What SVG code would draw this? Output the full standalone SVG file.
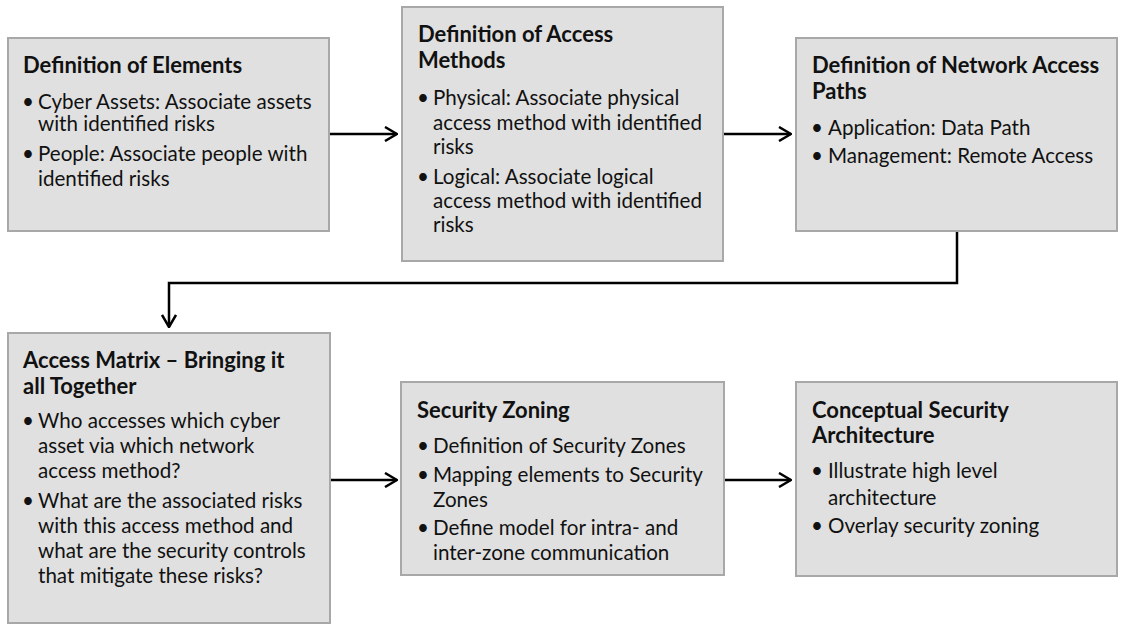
<svg xmlns="http://www.w3.org/2000/svg" width="1124" height="626" viewBox="0 0 1124 626">
<style>
.box{fill:#e0e0e0;stroke:#a8a8a8;stroke-width:2}
.t{font-family:Lato,"Open Sans",sans-serif;font-size:22px;font-weight:bold;fill:#111}
.b{font-family:Lato,"Open Sans",sans-serif;font-size:20.6px;fill:#111}
.d{font-family:Lato,"Open Sans",sans-serif;font-size:20.6px;fill:#111;text-anchor:middle}
.c{fill:none;stroke:#000;stroke-width:2.5}
</style>
<defs>
<marker id="arr" viewBox="0 0 14 16" refX="13" refY="8" markerWidth="14" markerHeight="16" markerUnits="userSpaceOnUse" orient="auto">
<path d="M1,1 L13,8 L1,15" fill="none" stroke="#000" stroke-width="2.5"/>
</marker>
</defs>
<rect width="1124" height="626" fill="#fff"/>
<g id="connectors">
<line class="c" x1="329" y1="134" x2="397" y2="134" marker-end="url(#arr)"/>
<line class="c" x1="723" y1="134" x2="791" y2="134" marker-end="url(#arr)"/>
<polyline class="c" points="957,231 957,283 169,283 169,327" marker-end="url(#arr)"/>
<line class="c" x1="330" y1="480" x2="397" y2="480" marker-end="url(#arr)"/>
<line class="c" x1="724" y1="480" x2="791" y2="480" marker-end="url(#arr)"/>
</g>
<g id="n1">
<rect class="box" x="8" y="38" width="321" height="193"/>
<text class="t" x="23" y="73">Definition of Elements</text>
<text class="d" x="28" y="109">•</text><text class="b" x="38" y="109">Cyber Assets: Associate assets</text>
<text class="b" x="38" y="131">with identified risks</text>
<text class="d" x="28" y="161">•</text><text class="b" x="38" y="161">People: Associate people with</text>
<text class="b" x="38" y="186">identified risks</text>
</g>
<g id="n2">
<rect class="box" x="402" y="7" width="321" height="254"/>
<text class="t" x="418" y="42">Definition of Access</text>
<text class="t" x="418" y="68">Methods</text>
<text class="d" x="423" y="105">•</text><text class="b" x="433" y="105">Physical: Associate physical</text>
<text class="b" x="433" y="130">access method with identified</text>
<text class="b" x="433" y="154">risks</text>
<text class="d" x="423" y="184">•</text><text class="b" x="433" y="184">Logical: Associate logical</text>
<text class="b" x="433" y="208">access method with identified</text>
<text class="b" x="433" y="232">risks</text>
</g>
<g id="n3">
<rect class="box" x="796" y="38" width="321" height="193"/>
<text class="t" x="812" y="73">Definition of Network Access</text>
<text class="t" x="812" y="99">Paths</text>
<text class="d" x="817" y="135">•</text><text class="b" x="828" y="135">Application: Data Path</text>
<text class="d" x="817" y="163">•</text><text class="b" x="828" y="163">Management: Remote Access</text>
</g>
<g id="n4">
<rect class="box" x="8" y="333" width="322" height="290"/>
<text class="t" x="23" y="368">Access Matrix – Bringing it</text>
<text class="t" x="23" y="394">all Together</text>
<text class="d" x="28" y="428">•</text><text class="b" x="38" y="428">Who accesses which cyber</text>
<text class="b" x="38" y="453">asset via which network</text>
<text class="b" x="38" y="478">access method?</text>
<text class="d" x="28" y="508">•</text><text class="b" x="38" y="508">What are the associated risks</text>
<text class="b" x="38" y="533">with this access method and</text>
<text class="b" x="38" y="558">what are the security controls</text>
<text class="b" x="38" y="583">that mitigate these risks?</text>
</g>
<g id="n5">
<rect class="box" x="401" y="382" width="323" height="193"/>
<text class="t" x="417" y="418">Security Zoning</text>
<text class="d" x="423" y="453">•</text><text class="b" x="433" y="453">Definition of Security Zones</text>
<text class="d" x="423" y="482">•</text><text class="b" x="433" y="482">Mapping elements to Security</text>
<text class="b" x="433" y="507">Zones</text>
<text class="d" x="423" y="535">•</text><text class="b" x="433" y="535">Define model for intra- and</text>
<text class="b" x="433" y="560">inter-zone communication</text>
</g>
<g id="n6">
<rect class="box" x="796" y="382" width="321" height="194"/>
<text class="t" x="812" y="418">Conceptual Security</text>
<text class="t" x="812" y="443">Architecture</text>
<text class="d" x="817" y="478">•</text><text class="b" x="828" y="478">Illustrate high level</text>
<text class="b" x="828" y="505">architecture</text>
<text class="d" x="817" y="533">•</text><text class="b" x="828" y="533">Overlay security zoning</text>
</g>
</svg>
